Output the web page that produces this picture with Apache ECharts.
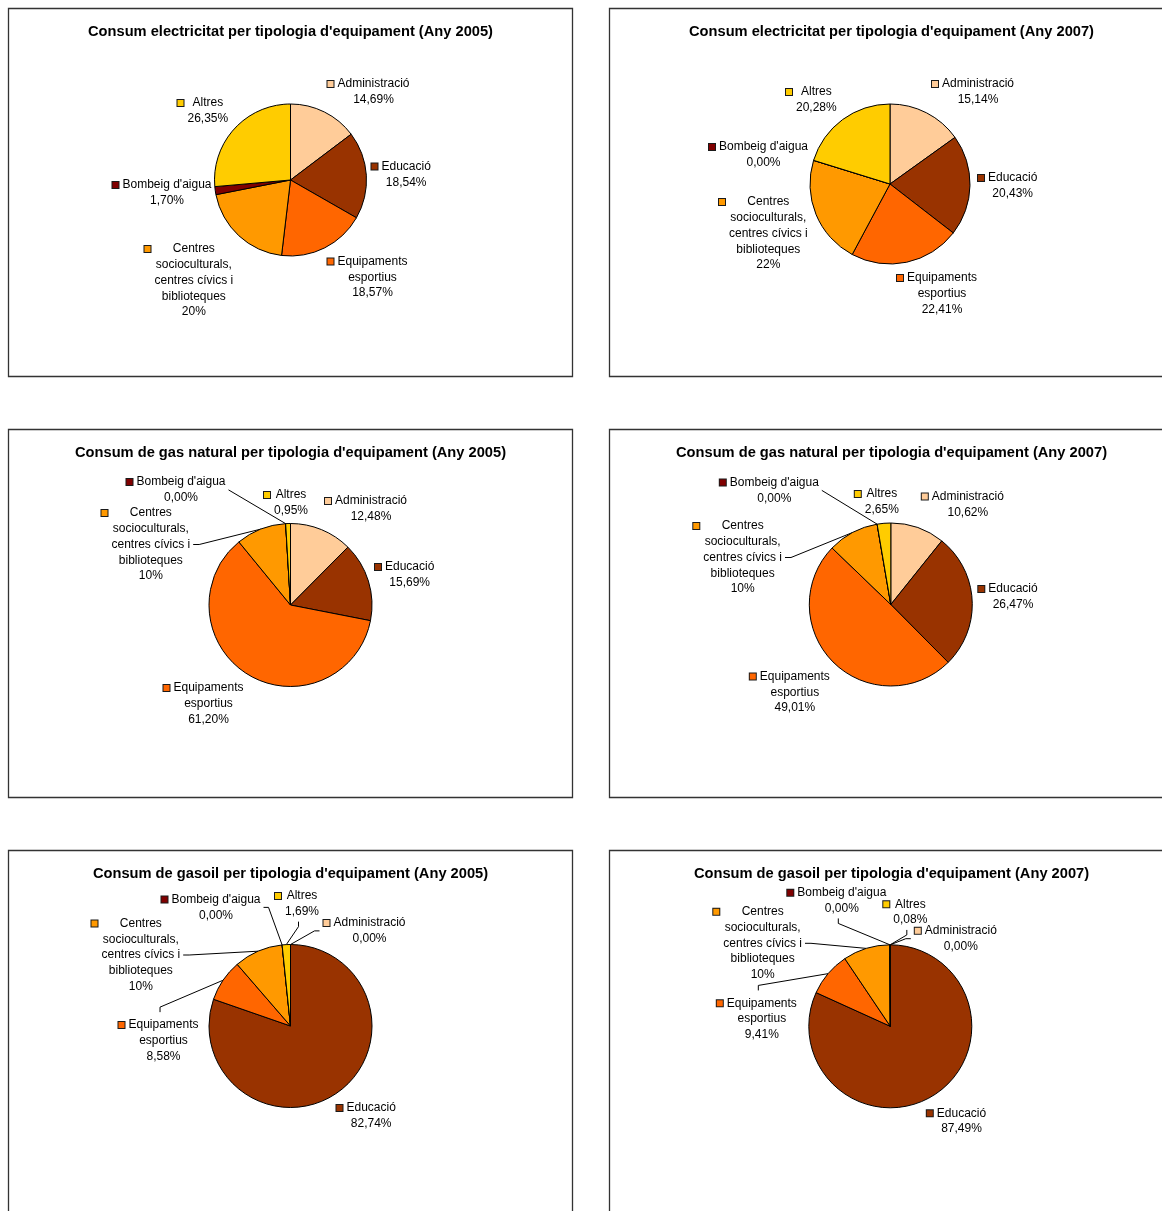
<!DOCTYPE html>
<html>
<head>
<meta charset="utf-8">
<title>Consum per tipologia d'equipament</title>
<script src="https://cdn.jsdelivr.net/npm/echarts@6/dist/echarts.min.js"></script>
<style>
  html, body { margin: 0; padding: 0; background: #ffffff; }
  #main { width: 1162px; height: 1211px; }
</style>
</head>
<body>
<div id="main"></div>
<script>
// ---- Data ----
const categories = [
  'Administració',
  'Educació',
  'Equipaments esportius',
  'Centres socioculturals, centres cívics i biblioteques',
  "Bombeig d'aigua",
  'Altres'
];
// How each category name is broken into lines in its label
const categoryLabelLines = [
  ['Administració'],
  ['Educació'],
  ['Equipaments', 'esportius'],
  ['Centres', 'socioculturals,', 'centres cívics i', 'biblioteques'],
  ["Bombeig d'aigua"],
  ['Altres']
];
// Decimals shown in each category's percentage label
const labelDecimals = [2, 2, 2, 0, 2, 2];

const titles = [
  "Consum electricitat per tipologia d'equipament (Any 2005)",
  "Consum electricitat per tipologia d'equipament (Any 2007)",
  "Consum de gas natural per tipologia d'equipament (Any 2005)",
  "Consum de gas natural per tipologia d'equipament (Any 2007)",
  "Consum de gasoil per tipologia d'equipament (Any 2005)",
  "Consum de gasoil per tipologia d'equipament (Any 2007)"
];

// Percentages, in category order
const electricitat2005 = [14.69, 18.54, 18.57, 20, 1.70, 26.35];
const electricitat2007 = [15.14, 20.43, 22.41, 22, 0.00, 20.28];
const gasNatural2005   = [12.48, 15.69, 61.20, 10, 0.00, 0.95];
const gasNatural2007   = [10.62, 26.47, 49.01, 10, 0.00, 2.65];
const gasoil2005       = [0.00, 82.74, 8.58, 10, 0.00, 1.69];
const gasoil2007       = [0.00, 87.49, 9.41, 10, 0.00, 0.08];

const seriesValues = [electricitat2005, electricitat2007, gasNatural2005, gasNatural2007, gasoil2005, gasoil2007];

// ---- Styling ----
const sliceColors = ['#FFCC99', '#993300', '#FF6600', '#FF9900', '#800000', '#FFCC00'];
const FONT = '"Liberation Sans", Arial, Helvetica, sans-serif';
const LINE_H = 15.75;
const KEY_SIZE = 6;
const KEY_GAP = 4;
const KEY_W = KEY_SIZE + KEY_GAP;

// ---- Layout: frames, pie geometry, label placement ----
const BOX_W = 564, BOX_H = 368;
const boxes = [[8.5, 8.5], [609.5, 8.5], [8.5, 429.5], [609.5, 429.5], [8.5, 850.5], [609.5, 850.5]];
const pies = [
  { cx: 290.5, cy: 180,    r: 76 },
  { cx: 890,   cy: 184,    r: 80 },
  { cx: 290.5, cy: 605,    r: 81.5 },
  { cx: 890.8, cy: 604.5,  r: 81.5 },
  { cx: 290.5, cy: 1026,   r: 81.5 },
  { cx: 890.3, cy: 1026.3, r: 81.5 }
];
// Per label: [key left offset from centre, first line middle offset from centre, leader side, stub length]
const labelPlacement = [
  [[37, -96], [81, -13.5], [37, 81.5], [-146, 69], [-178, 5], [-113, -77]],
  [[42, -100], [88, -6], [7, 94], [-171, 18], [-181, -37], [-104, -92]],
  [[34.5, -104], [84.5, -38], [-127, 83], [-189, -92, 'right', 6], [-164, -123, 'right', 0], [-26.5, -110]],
  [[31, -108], [87.5, -15.5], [-141, 72], [-197.5, -78.5, 'right', 6], [-171, -122, 'right', 0], [-36, -110.5]],
  [[33, -103, 'left', 5], [46, 82], [-172, -1, 'top', 5], [-199, -102.5, 'right', 6], [-129, -126.5, 'right', 5], [-15.5, -130, 'bottom', 5]],
  [[24.5, -95.5, 'left', 5], [36.5, 87], [-173.5, -23, 'top', 5], [-177, -114.5, 'right', 6], [-103, -133.5, 'bottom', 5], [-7, -122, 'bottom', 5]]
];

function formatPct(v, d) {
  return v.toFixed(d).replace('.', ',') + '%';
}

function labelFormatter(params) {
  const i = params.dataIndex;
  const lines = categoryLabelLines[i].concat([formatPct(params.value, labelDecimals[i])]);
  return lines.map(function (line, n) {
    return (n === 0 ? '{k' + i + '|}{s|}' : '{g|}') + '{t|' + line + '}';
  }).join('\n');
}

function buildRich() {
  const rich = {
    s: { width: KEY_GAP, align: 'left', lineHeight: LINE_H },
    g: { width: KEY_W, align: 'left', lineHeight: LINE_H },
    t: { align: 'center', fontFamily: FONT, fontSize: 12, lineHeight: LINE_H, color: '#000' }
  };
  sliceColors.forEach(function (c, i) {
    rich['k' + i] = {
      width: KEY_SIZE, height: KEY_SIZE, align: 'left', lineHeight: LINE_H,
      backgroundColor: c, borderColor: '#1a1a1a', borderWidth: 1
    };
  });
  return rich;
}

function makeLabelLayout(p) {
  const pie = pies[p];
  const place = labelPlacement[p];
  return function (params) {
    const spec = place[params.dataIndex];
    const w = params.labelRect.width;
    const h = params.labelRect.height;
    const x = pie.cx + spec[0];
    const y = pie.cy + spec[1] - LINE_H / 2;
    const out = { x: x, y: y, align: 'left', verticalAlign: 'top' };
    const side = spec[2];
    const stub = spec[3] || 0;
    if (side && params.labelLinePoints && params.labelLinePoints.length) {
      const anchor = params.labelLinePoints[0];
      const midX = x + KEY_W + (w - KEY_W) / 2 - 4;
      let a, b;
      if (side === 'right') { a = [x + w + 2, y + h / 2]; b = [a[0] + stub, a[1]]; }
      else if (side === 'left') { a = [x - 4, y + h / 2]; b = [a[0] - stub, a[1]]; }
      else if (side === 'top') { a = [midX, y - 5]; b = [midX, y - 5 - stub]; }
      else { a = [midX, y + h + 2]; b = [midX, y + h + 2 + stub]; }
      out.labelLinePoints = stub ? [anchor, b, a] : [anchor, a];
    }
    return out;
  };
}

const rich = buildRich();

const series = seriesValues.map(function (values, p) {
  return {
    type: 'pie',
    center: [pies[p].cx, pies[p].cy],
    radius: pies[p].r,
    startAngle: 90,
    clockwise: true,
    avoidLabelOverlap: false,
    animation: false,
    silent: true,
    itemStyle: { borderColor: '#000', borderWidth: 1 },
    label: {
      show: true,
      position: 'outside',
      color: '#000',
      fontFamily: FONT,
      fontSize: 12,
      lineHeight: LINE_H,
      formatter: labelFormatter,
      rich: rich
    },
    labelLine: {
      show: false,
      smooth: false,
      lineStyle: { color: '#000', width: 1 }
    },
    labelLayout: makeLabelLayout(p),
    emphasis: { disabled: true },
    data: values.map(function (v, i) {
      return {
        name: categories[i],
        value: v,
        itemStyle: { color: sliceColors[i] },
        labelLine: { show: !!labelPlacement[p][i][2] }
      };
    })
  };
});

const title = titles.map(function (t, p) {
  return {
    text: t,
    left: boxes[p][0] + BOX_W / 2,
    top: boxes[p][1] + 14.5,
    textAlign: 'center',
    padding: 0,
    textStyle: { fontFamily: FONT, fontSize: 14.67, fontWeight: 'bold', color: '#000', lineHeight: 17 }
  };
});

const frames = boxes.map(function (b) {
  return {
    type: 'rect',
    silent: true,
    shape: { x: b[0], y: b[1], width: BOX_W, height: BOX_H },
    style: { fill: 'none', stroke: '#333', lineWidth: 1.3 }
  };
});

const chart = echarts.init(document.getElementById('main'), null, { renderer: 'canvas' });
chart.setOption({
  backgroundColor: '#ffffff',
  animation: false,
  title: title,
  graphic: frames,
  series: series
});
</script>
</body>
</html>
